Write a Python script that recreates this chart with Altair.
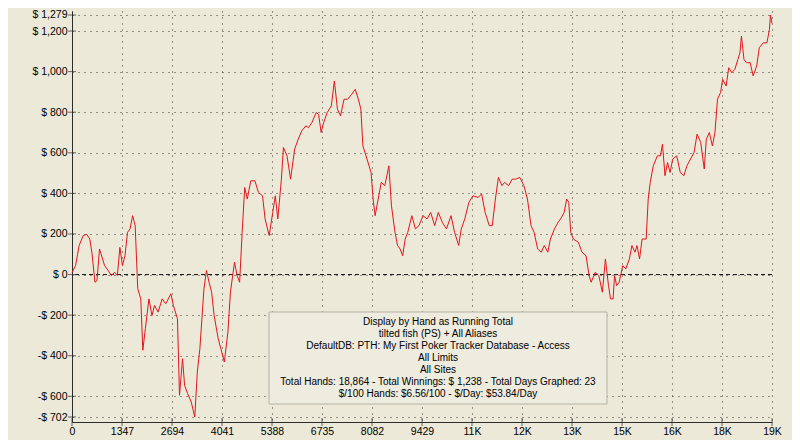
import altair as alt
import pandas as pd

hands = [0, 96, 151, 192, 302, 398, 480, 535, 618, 673, 741, 878, 974, 1057, 1153, 1222, 1290, 1359, 1427, 1496,
         1565, 1633, 1702, 1771, 1853, 1908, 1976, 2072, 2155, 2223, 2320, 2429, 2525, 2663, 2731, 2841, 2896, 2978,
         3033, 3116, 3212, 3308, 3376, 3445, 3555, 3623, 3692, 3761, 3829, 3939, 4035, 4104, 4200, 4268, 4378, 4447,
         4516, 4584, 4653, 4721, 4817, 4927, 5023, 5133, 5202, 5312, 5408, 5476, 5545, 5641, 5696, 5792, 5888, 5998,
         6094, 6190, 6300, 6368, 6465, 6575, 6643, 6712, 6780, 6876, 6986, 7068, 7151, 7233, 7329, 7425, 7535, 7631,
         7714, 7782, 7837, 7947, 8057, 8112, 8166, 8249, 8331, 8427, 8537, 8606, 8702, 8771, 8839, 8908, 8976, 9045,
         9155, 9251, 9347, 9457, 9566, 9662, 9772, 9868, 9978, 10088, 10211, 10307, 10417, 10486, 10582, 10692, 10802,
         10939, 11035, 11131, 11241, 11323, 11406, 11488, 11584, 11653, 11762, 11858, 11954, 12064, 12174, 12270,
         12366, 12449, 12545, 12641, 12723, 12819, 12888, 12998, 13094, 13162, 13258, 13327, 13382, 13437, 13505,
         13642, 13739, 13848, 13931, 13986, 14095, 14192, 14288, 14370, 14453, 14508, 14576, 14617, 14672, 14741,
         14837, 14920, 15016, 15084, 15167, 15221, 15290, 15359, 15468, 15523, 15578, 15660, 15770, 15852, 15907,
         15976, 16044, 16113, 16182, 16291, 16387, 16484, 16566, 16662, 16758, 16840, 16937, 17033, 17088, 17170,
         17252, 17321, 17390, 17472, 17527, 17623, 17692, 17774, 17857, 17939, 17994, 18035, 18103, 18172, 18268,
         18350, 18446, 18515, 18624, 18721, 18789, 18817, 18858]

winnings = [10, 44, 100, 143, 192, 198, 175, 110, -38, -30, 126, 44, 20, -5, 11, -5, 134, 44, 93, 208,
            225, 290, 241, -70, -120, -373, -267, -120, -202, -152, -185, -120, -144, -95, -152, -218, -595, -415,
            -546, -587, -628, -702, -480, -365, -70, 20, -38, -87, -202, -316, -382, -431, -284, -87, 61, -5,
            -38, 208, 429, 372, 462, 462, 405, 388, 274, 192, 306, 388, 274, 470, 626, 585, 470, 618,
            667, 708, 733, 724, 749, 798, 790, 700, 749, 798, 831, 954, 815, 782, 864, 864, 888, 913,
            864, 815, 634, 569, 503, 372, 290, 372, 454, 438, 536, 339, 208, 143, 126, 93, 175, 208,
            290, 225, 241, 290, 274, 306, 241, 306, 257, 225, 290, 208, 143, 225, 274, 356, 388,
            380, 397, 306, 241, 241, 372, 479, 438, 454, 438, 470, 470, 479, 438, 372,
            241, 208, 126, 110, 143, 110, 175, 225, 257, 274, 306, 372, 356, 208, 175,
            159, 110, 93, -5, -38, 11, -5, -87, 77, -54, -120, -120, -5, -54, -38,
            44, 28, 77, 143, 110, 143, 77, 175, 175, 372, 454, 536, 585, 585, 642,
            487, 552, 503, 569, 585, 503, 487, 536, 569, 601, 692, 651, 520, 667, 700,
            634, 700, 864, 897, 962, 929, 1019, 995, 1011, 1060, 1093, 1175, 1060, 1044, 1044,
            979, 1028, 1118, 1142, 1142, 1208, 1279, 1238]

x_ticks = [0, 1347, 2694, 4041, 5388, 6735, 8082, 9429, 10776, 12123, 13470, 14817, 16164, 17511, 18858]
y_ticks = [-702, -600, -400, -200, 0, 200, 400, 600, 800, 1000, 1200, 1279]

info_lines = [
    "Display by Hand as Running Total",
    "tilted fish (PS) + All Aliases",
    "DefaultDB: PTH: My First Poker Tracker Database - Access",
    "All Limits",
    "All Sites",
    "Total Hands: 18,864 - Total Winnings: $ 1,238 - Total Days Graphed: 23",
    "$/100 Hands: $6.56/100 - $/Day: $53.84/Day",
]

df = pd.DataFrame({"hand": hands, "won": winnings})

FONT = "Liberation Sans"
BG = "#ECE9D8"
AXC = "#2b2b2b"

x_scale = alt.Scale(domain=[0, 18858], nice=False, zero=False)
y_scale = alt.Scale(domain=[-726.6, 1298.7], nice=False, zero=False)

x_axis = alt.Axis(
    values=x_ticks, title=None, grid=True, gridColor="#222", gridDash=[1, 5], gridOpacity=0.9,
    labelExpr="datum.value < 10000 ? format(datum.value, 'd') : format(datum.value / 1000, '.0f') + 'K'",
    labelFont=FONT, labelFontSize=10.5, labelColor="#000", ticks=False,
    domainColor=AXC, labelPadding=4, labelFlush=False, labelOverlap=False,
)
y_axis = alt.Axis(
    values=y_ticks, title=None, grid=True, gridColor="#222", gridDash=[1, 5], gridOpacity=0.9,
    labelExpr="datum.value < 0 ? '-$ ' + format(-datum.value, ',') : '$ ' + format(datum.value, ',')",
    labelFont=FONT, labelFontSize=10.5, labelColor="#000", ticks=False,
    domainColor=AXC, labelPadding=5, labelOverlap=False, labelFlush=False,
)

base = alt.Chart(df)

grid_layer = base.mark_line(opacity=0).encode(
    x=alt.X("hand:Q", scale=x_scale, axis=x_axis),
    y=alt.Y("won:Q", scale=y_scale, axis=y_axis),
)

zero_line = alt.Chart(pd.DataFrame({"z": [0]})).mark_rule(
    color="#111", strokeDash=[4, 3], strokeWidth=1
).encode(y=alt.Y("z:Q", scale=y_scale, axis=y_axis))

y_cross = alt.Chart(pd.DataFrame({"v": y_ticks})).mark_tick(
    color=AXC, size=8, thickness=1
).encode(y=alt.Y("v:Q", scale=y_scale, axis=y_axis), x=alt.value(0))

x_cross = alt.Chart(pd.DataFrame({"v": x_ticks})).mark_tick(
    color=AXC, size=8, thickness=1
).encode(x=alt.X("v:Q", scale=x_scale, axis=x_axis), y=alt.value(411))

box = alt.Chart(pd.DataFrame({"a": [0]})).mark_rect(
    fill="#EEEBDF", stroke="#B5B1A5", strokeWidth=1
).encode(x=alt.value(197), x2=alt.value(535), y=alt.value(301), y2=alt.value(393))

info = alt.Chart(pd.DataFrame({"t": ["\n".join(info_lines)]})).mark_text(
    font=FONT, fontSize=10, color="#000", align="center", baseline="top",
    lineBreak="\n", lineHeight=12
).encode(text="t:N", x=alt.value(366), y=alt.value(306))

line = base.mark_line(color="#E3141C", strokeWidth=1, interpolate="linear").encode(
    x=alt.X("hand:Q", scale=x_scale, axis=x_axis),
    y=alt.Y("won:Q", scale=y_scale, axis=y_axis),
)

chart = alt.layer(grid_layer, zero_line, y_cross, x_cross, box, info, line).properties(
    width=700, height=411,
    background=BG,
    padding={"left": 64, "top": 3, "right": 20, "bottom": 18},
    autosize=alt.AutoSizeParams(type="none"),
).configure_view(stroke=None, fill=BG)

chart.save("out.html", embed_options={"renderer": "svg", "actions": False})
